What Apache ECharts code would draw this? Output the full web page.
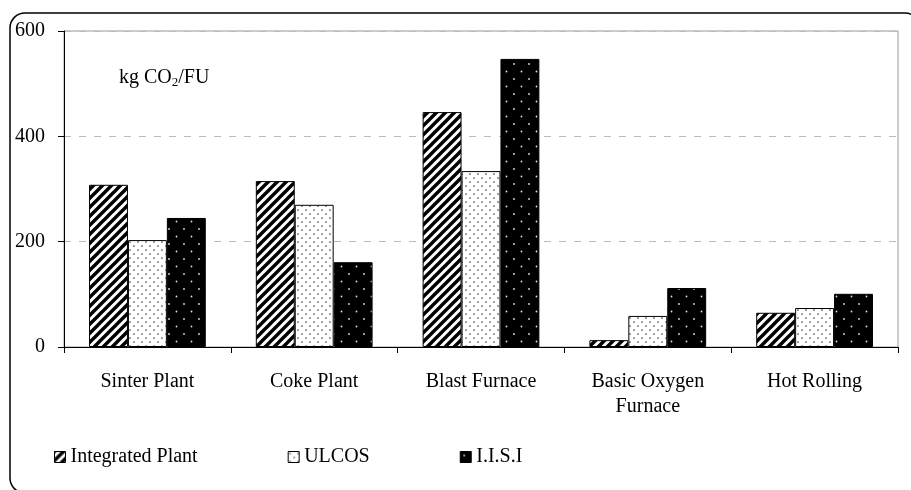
<!DOCTYPE html>
<html>
<head>
<meta charset="utf-8">
<script src="https://cdn.jsdelivr.net/npm/echarts@6/dist/echarts.min.js"></script>
<style>
html,body{margin:0;padding:0;background:#fff;}
#main{width:911px;height:490px;}
</style>
</head>
<body>
<div id="main"></div>
<script>
const categories = ['Sinter Plant', 'Coke Plant', 'Blast Furnace', 'Basic Oxygen\nFurnace', 'Hot Rolling'];
const seriesNames = ['Integrated Plant', 'ULCOS', 'I.I.S.I'];
const integratedPlant = [308, 315, 446, 13, 65];
const ulcos = [203, 270, 334, 59, 74];
const iisi = [245, 161, 547, 112, 101];
const yTicks = [0, 200, 400, 600];

const FONT = 'Liberation Serif';

function stripePattern() {
  const c = document.createElement('canvas');
  c.width = 9; c.height = 9;
  const g = c.getContext('2d');
  g.fillStyle = '#fff'; g.fillRect(0, 0, 9, 9);
  g.strokeStyle = '#000'; g.lineWidth = 3.4;
  g.beginPath();
  g.moveTo(-1, 10); g.lineTo(10, -1);
  g.moveTo(-5, 5); g.lineTo(5, -5);
  g.moveTo(4, 14); g.lineTo(14, 4);
  g.stroke();
  return c;
}
function dotPattern(bg, fg, w, h, pts, r) {
  const c = document.createElement('canvas');
  c.width = w; c.height = h;
  const g = c.getContext('2d');
  g.fillStyle = bg; g.fillRect(0, 0, w, h);
  g.fillStyle = fg;
  pts.forEach(p => { g.beginPath(); g.arc(p[0], p[1], r, 0, Math.PI * 2); g.fill(); });
  return c;
}
const fills = [
  { image: stripePattern(), repeat: 'repeat' },
  { image: dotPattern('#fff', '#444', 8, 8, [[2, 2], [6, 6]], 0.85), repeat: 'repeat' },
  { image: dotPattern('#000', '#ddd', 15, 15, [[4, 4], [11.5, 11.5]], 0.9), repeat: 'repeat' }
];
const dataSets = [integratedPlant, ulcos, iisi];

const chart = echarts.init(document.getElementById('main'), null, { renderer: 'canvas' });
const option = {
  animation: false,
  backgroundColor: '#fff',
  textStyle: { fontFamily: FONT },
  grid: { left: 64, right: 13, top: 31, bottom: 143, show: true, borderColor: '#999', borderWidth: 1, backgroundColor: 'transparent' },
  legend: {
    left: 54, top: 447, padding: 0,
    itemWidth: 11, itemHeight: 11, itemGap: 90,
    textStyle: { fontFamily: FONT, fontSize: 20, color: '#000' },
    data: seriesNames.map((n, i) => ({ name: n, icon: 'rect', itemStyle: { color: fills[i], borderColor: '#000', borderWidth: 1 } }))
  },
  xAxis: {
    type: 'category',
    data: categories,
    axisLine: { lineStyle: { color: '#000', width: 1 } },
    axisTick: { show: true, length: 6, lineStyle: { color: '#000' } },
    axisLabel: { fontFamily: FONT, fontSize: 20, color: '#000', margin: 22, lineHeight: 25 },
    splitLine: { show: false }
  },
  yAxis: {
    type: 'value',
    min: 0, max: 600, interval: 200,
    axisLine: { show: true, lineStyle: { color: '#000', width: 1 } },
    axisTick: { show: true, length: 6, lineStyle: { color: '#000' } },
    axisLabel: { fontFamily: FONT, fontSize: 20, color: '#000', margin: 19,
      formatter: v => yTicks.includes(v) ? String(v) : '' },
    splitLine: { show: true, lineStyle: { color: '#bbb', type: [7, 8], width: 1 } }
  },
  series: dataSets.map((d, i) => ({
    name: seriesNames[i],
    type: 'bar',
    data: d,
    barGap: '0%',
    barCategoryGap: '30%',
    itemStyle: { color: fills[i], borderColor: '#000', borderWidth: 1 }
  })),
  graphic: [
    { type: 'rect', shape: { x: 10, y: 13, width: 910, height: 480, r: 15 }, style: { fill: 'none', stroke: '#000', lineWidth: 1.5 }, silent: true, z: 100 },
    { type: 'text', left: 119, top: 68, style: {
      text: 'kg CO{sub|2}/FU',
      font: '20px "Liberation Serif"', fill: '#000',
      rich: { sub: { fontSize: 13, fontFamily: FONT, padding: [9, 0, 0, 0], fill: '#000' } }
    } }
  ]
};
chart.setOption(option);
</script>
</body>
</html>
